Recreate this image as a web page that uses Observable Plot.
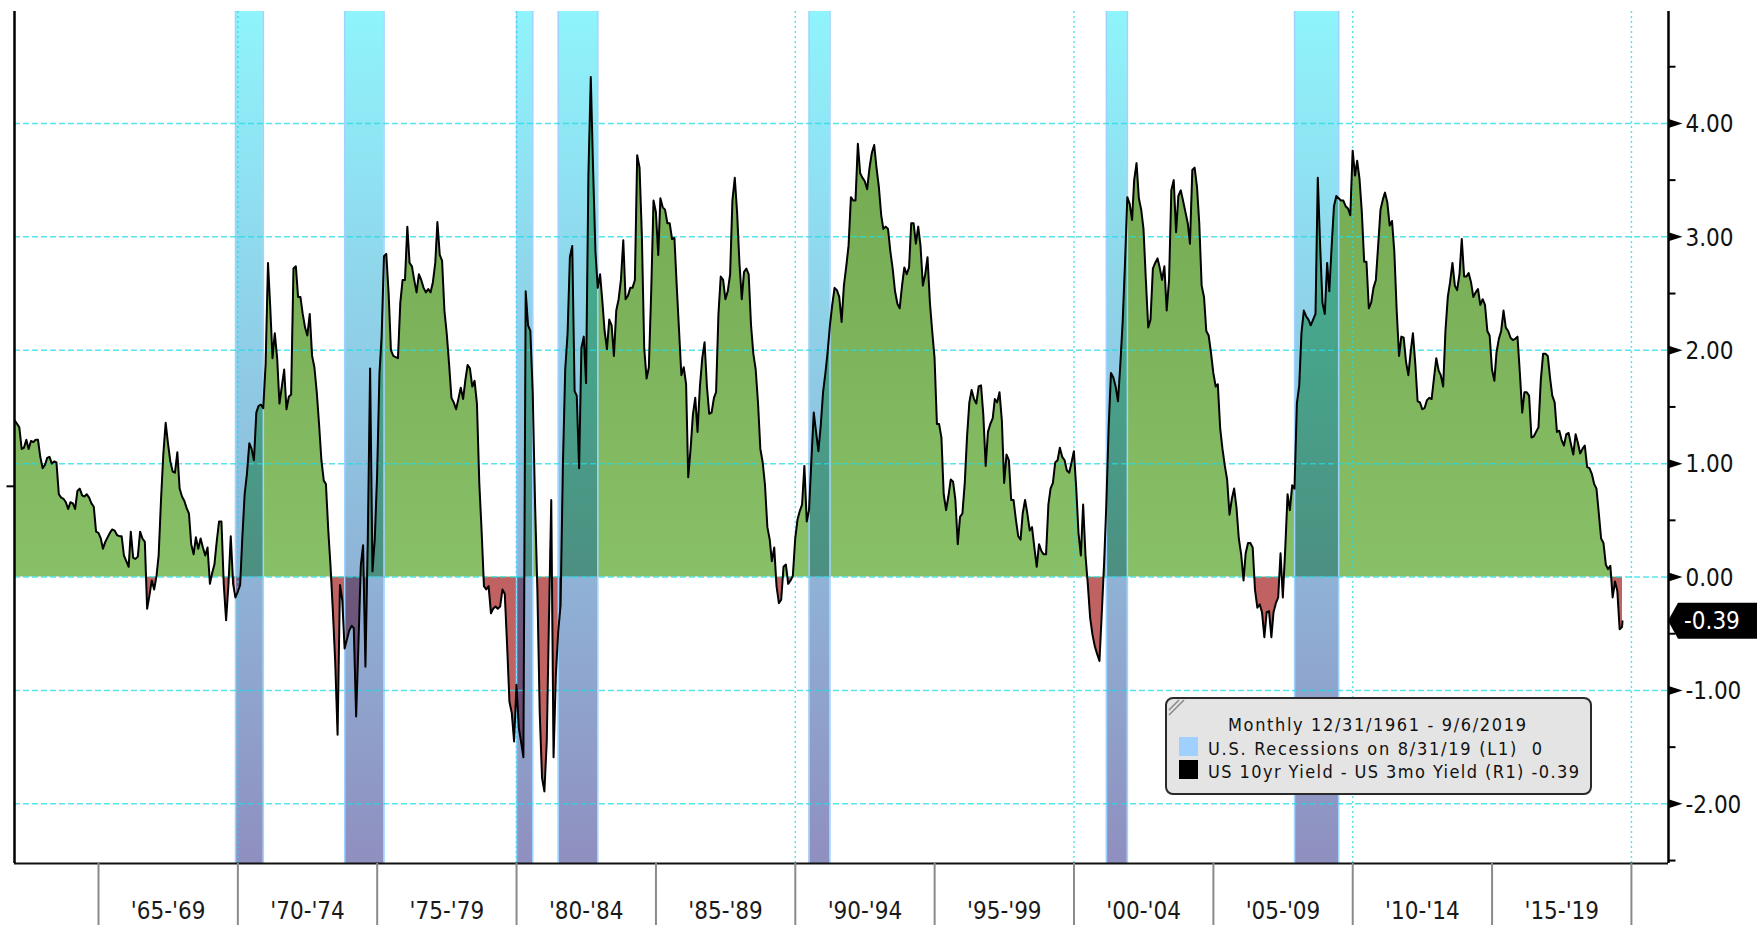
<!DOCTYPE html>
<html><head><meta charset="utf-8">
<script src="https://cdn.jsdelivr.net/npm/d3@7"></script>
<script src="https://cdn.jsdelivr.net/npm/@observablehq/plot@0.6"></script>
<style>
html,body{margin:0;padding:0;background:#fff;}
#chart{width:1757px;height:925px;overflow:hidden;}
</style></head><body><div id="chart"></div>
<script>
// ---- DATA: US 10yr Yield - US 3mo Yield, monthly (month-end), first point 12/31/1961 ----
const spread1960s = [1.38,1.35,1.32,1.13,1.14,1.21,1.13,1.20,1.19,1.21,
1.21,1.06,0.96,0.99,1.05,1.06,1.00,1.02,1.01,0.73,
0.70,0.69,0.66,0.60,0.66,0.65,0.60,0.76,0.78,0.72,
0.71,0.73,0.70,0.65,0.62,0.40,0.39,0.34,0.25,0.31,
0.35,0.39,0.42,0.41,0.37,0.36,0.36,0.19,0.14,0.09,
0.40,0.17,0.16,0.18,0.40,0.34,0.31,-0.28,-0.16,-0.03,
-0.11,0.01,0.19,0.68,1.08,1.36,1.18,1.02,0.93,0.92,
1.10,0.78,0.71,0.67,0.61,0.56,0.29,0.20,0.35,0.25,
0.34,0.26,0.19,0.26,-0.06,0.04,0.11,0.32,0.49,0.49,
-0.06,-0.38,-0.06,0.36,-0.06,-0.18,-0.13];
const spread1970s = [-0.07,0.34,0.73,0.91,1.18,1.13,1.03,1.45,1.51,1.52,
1.49,1.88,2.77,2.40,1.93,2.15,1.93,1.53,1.68,1.83,
1.48,1.59,1.61,2.72,2.74,2.47,2.47,2.32,2.20,2.13,
2.32,1.95,1.85,1.63,1.35,1.03,0.85,0.82,0.41,0.09,
-0.31,-0.75,-1.39,-0.07,-0.20,-0.63,-0.55,-0.47,-0.43,-0.45,
-1.23,-0.60,0.10,0.28,-0.79,0.34,1.84,0.05,0.33,0.90,
1.80,2.12,2.83,2.85,2.50,2.00,1.95,1.94,1.93,2.42,
2.62,2.62,3.09,2.77,2.74,2.62,2.51,2.67,2.62,2.55,
2.51,2.54,2.51,2.60,2.77,3.13,2.84,2.79,2.35,2.15,
1.88,1.58,1.54,1.48,1.57,1.67,1.57,1.73,1.87,1.84,
1.68,1.73,1.53,0.83,0.41,-0.08,-0.11,-0.08,-0.32,-0.28,
-0.26,-0.28,-0.26,-0.11,-0.15,-0.61,-1.10,-1.20,-1.45,-0.95];
const spread1980s = [-1.33,-1.45,-1.59,2.52,2.22,2.17,1.63,0.64,-0.11,-1.20,
-1.77,-1.89,-1.45,-0.40,0.68,-1.59,-0.85,-0.48,-0.25,1.00,
1.83,2.15,2.82,2.92,1.64,1.60,0.96,2.02,2.12,1.71,
3.55,4.41,3.60,2.87,2.55,2.67,2.42,2.17,2.01,2.27,
2.22,1.95,2.35,2.45,2.62,2.97,2.45,2.48,2.55,2.55,
2.62,3.72,3.61,3.02,2.02,1.75,1.85,2.52,3.32,3.22,
2.84,3.34,3.26,3.24,3.12,3.12,2.98,2.99,2.57,2.17,
1.78,1.85,1.70,0.88,1.13,1.43,1.58,1.28,1.68,1.93,
2.07,1.68,1.44,1.45,1.58,1.63,2.32,2.65,2.62,2.45,
2.52,2.67,3.32,3.52,3.22,2.77,2.45,2.69,2.72,2.67,
2.22,1.97,1.83,1.53,1.13,1.01,0.81,0.44,0.33,0.14,
0.26,-0.08,-0.23,-0.20,0.09,0.11,-0.06,-0.03,0.01,0.34];
const spread1990s = [0.51,0.58,0.64,0.98,0.49,0.59,1.03,1.45,1.28,1.11,
1.33,1.63,1.80,1.98,2.22,2.40,2.55,2.53,2.47,2.25,
2.57,2.74,2.92,3.35,3.32,3.32,3.82,3.56,3.52,3.49,
3.42,3.61,3.74,3.81,3.61,3.44,3.19,3.07,3.09,3.07,
2.87,2.72,2.52,2.41,2.37,2.57,2.73,2.67,2.73,3.12,
3.12,2.94,3.09,2.92,2.57,2.67,2.82,2.42,2.17,1.93,
1.35,1.35,1.23,0.73,0.59,0.71,0.86,0.84,0.68,0.29,
0.53,0.56,0.83,1.23,1.54,1.65,1.57,1.53,1.68,1.69,
1.43,0.98,1.28,1.35,1.40,1.57,1.54,1.63,1.38,0.83,
1.08,1.03,0.68,0.68,0.51,0.36,0.33,0.56,0.68,0.56,
0.41,0.44,0.26,0.09,0.29,0.23,0.20,0.20,0.64,0.78,
0.83,1.01,1.03,1.14,1.06,1.03,0.94,0.92,1.01,1.11];
const spread2000s = [0.78,0.39,0.19,0.64,0.19,-0.06,-0.36,-0.51,-0.61,-0.68,
-0.74,-0.31,0.14,0.64,1.33,1.80,1.76,1.68,1.55,1.88,
2.25,2.77,3.35,3.29,3.15,3.50,3.65,3.34,3.24,3.07,
2.62,2.20,2.27,2.72,2.77,2.81,2.72,2.62,2.74,2.35,
2.62,3.41,3.50,3.04,3.36,3.41,3.32,3.22,3.12,2.94,
3.59,3.61,3.44,3.12,2.57,2.47,2.17,2.13,1.98,1.80,
1.68,1.70,1.31,1.13,0.98,0.86,0.55,0.69,0.78,0.61,
0.34,0.20,-0.03,0.21,0.30,0.30,0.26,-0.11,-0.27,-0.24,
-0.31,-0.53,-0.31,-0.30,-0.53,-0.31,-0.23,-0.18,0.21,-0.18,
0.24,0.73,0.59,0.81,0.78,1.53,1.69,2.15,2.35,2.30,
2.27,2.22,2.27,2.32,3.52,2.92,2.42,2.32,2.77,2.52,
2.92,3.27,3.36,3.34,3.32,3.32,3.27,3.25,3.19,3.76];
const spread2010s = [3.54,3.67,3.51,3.22,2.78,2.78,2.37,2.42,2.55,2.62,
2.92,3.24,3.33,3.39,3.30,3.10,3.14,2.87,2.35,1.95,
2.12,2.11,1.90,1.78,1.99,2.15,1.88,1.55,1.54,1.48,
1.49,1.56,1.58,1.57,1.75,1.93,1.82,1.78,1.68,2.17,
2.47,2.60,2.77,2.57,2.53,2.67,2.98,2.65,2.65,2.68,
2.60,2.47,2.51,2.54,2.40,2.45,2.40,2.17,2.13,1.83,
1.73,1.98,2.10,2.17,2.35,2.20,2.17,2.11,2.09,2.10,
2.12,1.80,1.45,1.63,1.63,1.60,1.23,1.24,1.28,1.32,
1.73,1.97,1.97,1.95,1.75,1.60,1.54,1.28,1.29,1.21,
1.16,1.26,1.27,1.17,1.08,1.26,1.18,1.09,1.13,1.16,
0.97,0.96,0.91,0.82,0.78,0.56,0.34,0.30,0.11,0.07,
0.10,-0.18,-0.04,-0.12,-0.46,-0.44];
const lastDate = "2019-09-06";
const lastValue = -0.39;

// U.S. recessions (L1)
const recessionStarts = ["1969-12-01","1973-11-01","1980-01-01","1981-07-01","1990-07-01","2001-03-01","2007-12-01"];
const recessionEnds   = ["1970-11-30","1975-03-31","1980-07-31","1982-11-30","1991-03-31","2001-11-30","2009-06-30"];

// axes
const yTickValues = [4, 3, 2, 1, 0, -1, -2];
const yTickLabels = ["4.00", "3.00", "2.00", "1.00", "0.00", "-1.00", "-2.00"];
const yMinorTicks = [4.5, 3.5, 2.5, 1.5, 0.5, -0.5, -1.5, -2.5];
const leftTicks = [0.8];
const periodStartYears = [1965, 1970, 1975, 1980, 1985, 1990, 1995, 2000, 2005, 2010, 2015, 2020];
const periodLabels = ["'65-'69", "'70-'74", "'75-'79", "'80-'84", "'85-'89", "'90-'94", "'95-'99", "'00-'04", "'05-'09", "'10-'14", "'15-'19"];
const gridYears = [1970, 1980, 1990, 2000, 2010, 2020];

// legend
const legendTitle = "Monthly 12/31/1961 - 9/6/2019";
const legendLabels = ["U.S. Recessions on 8/31/19 (L1)  0", "US 10yr Yield - US 3mo Yield (R1) -0.39"];
const legendColors = ["#9fd0ff", "#000000"];
const lastLabel = "-0.39";

// ---- build ----
const monthly = [].concat(spread1960s, spread1970s, spread1980s, spread1990s, spread2000s, spread2010s);
const data = monthly.map((v, k) => ({date: new Date(Date.UTC(1961, 12 + k, 0)), v}));
data.push({date: new Date(lastDate + "T00:00:00Z"), v: lastValue});

const recessions = recessionStarts.map((s, i) => ({start: new Date(s + "T00:00:00Z"), end: new Date(recessionEnds[i] + "T23:59:59Z")}));
const periods = periodLabels.map((label, i) => ({label, mid: new Date(Date.UTC(periodStartYears[i] + 2, 6, 2))}));
const periodTicks = periodStartYears.map(y => new Date(Date.UTC(y, 0, 1)));
const gridDates = gridYears.map(y => new Date(Date.UTC(y, 0, 1)));
const yTicks = yTickValues.map((v, i) => ({v, label: yTickLabels[i]}));

const W = 1757, H = 925;
const M = {left: 14, right: 89, top: 11, bottom: 62};
const xDomain = [new Date(Date.UTC(1961, 11, 27)), new Date(Date.UTC(2021, 4, 1))];
const yDomain = [-2.526, 4.987];
const yBelow = yDomain[0] - (M.bottom) / ((H - M.top - M.bottom) / (yDomain[1] - yDomain[0]));

const axisFont = "'DejaVu Sans Condensed', 'DejaVu Sans', sans-serif";
const triSymbol = {draw(ctx) { ctx.moveTo(0, -4.5); ctx.lineTo(14, 0); ctx.lineTo(0, 4.5); ctx.closePath(); }};
const minorSymbol = {draw(ctx) { ctx.moveTo(0, 0); ctx.lineTo(7, 0); }};
const leftSymbol = {draw(ctx) { ctx.moveTo(-8, 0); ctx.lineTo(0, 0); }};
const gridColor = "#22dbe6";

const plot = Plot.plot({
  width: W, height: H,
  marginLeft: M.left, marginRight: M.right, marginTop: M.top, marginBottom: M.bottom,
  x: {type: "utc", domain: xDomain, axis: null},
  y: {domain: yDomain, axis: null},
  style: {background: "white"},
  marks: [
    Plot.areaY(data, {x: "date", y1: 0, y2: "v", fill: "url(#spreadFill)"}),
    Plot.rect(recessions, {x1: "start", x2: "end", y1: yDomain[0], y2: yDomain[1], fill: "url(#bandFill)", fillOpacity: 0.44}),
    Plot.ruleX(recessions, {x: "start", stroke: "#9fd3ff", strokeWidth: 1.5}),
    Plot.ruleX(recessions, {x: "end", stroke: "#9fd3ff", strokeWidth: 1.5}),
    Plot.ruleY(yTickValues, {stroke: gridColor, strokeOpacity: 0.75, strokeWidth: 1.5, strokeDasharray: "6,3"}),
    Plot.ruleX(gridDates, {stroke: gridColor, strokeOpacity: 0.75, strokeWidth: 1.5, strokeDasharray: "2,3"}),
    Plot.lineY(data, {x: "date", y: "v", stroke: "black", strokeWidth: 2, strokeLinejoin: "round"}),
    // frame lines
    Plot.ruleY([yDomain[0]], {stroke: "#111", strokeWidth: 2}),
    Plot.ruleX([xDomain[0]], {stroke: "black", strokeWidth: 2.5}),
    Plot.ruleX([xDomain[1]], {stroke: "black", strokeWidth: 2.5}),
    // bottom period ticks and labels
    Plot.ruleX(periodTicks, {y1: yBelow, y2: yDomain[0], stroke: "#8a8a8a", strokeWidth: 2}),
    Plot.text(periods, {x: "mid", text: "label", frameAnchor: "bottom", lineAnchor: "middle", dy: 48, fontSize: 24, fontFamily: axisFont, fill: "#1a1a1a"}),
    // right axis
    Plot.dot(yTickValues, {y: d => d, frameAnchor: "right", symbol: triSymbol, fill: "black", stroke: "none"}),
    Plot.dot(yMinorTicks, {y: d => d, frameAnchor: "right", symbol: minorSymbol, fill: "none", stroke: "black", strokeWidth: 2}),
    Plot.text(yTicks, {y: "v", text: "label", frameAnchor: "right", lineAnchor: "middle", dx: 17, dy: 1, textAnchor: "start", fontSize: 24, fontFamily: axisFont, fill: "#111"}),
    // left axis tick
    Plot.dot(leftTicks, {y: d => d, frameAnchor: "left", symbol: leftSymbol, fill: "none", stroke: "black", strokeWidth: 2})
  ]
});

const svg = d3.select(plot);
const ys = plot.scale("y");
const yZeroPx = ys.apply(0);
const frameTop = M.top, frameBot = H - M.bottom;
const off0 = (yZeroPx - frameTop) / (frameBot - frameTop);
svg.insert("defs", ":first-child").html(`
  <linearGradient id="spreadFill" gradientUnits="userSpaceOnUse" x1="0" y1="${frameTop}" x2="0" y2="${frameBot}">
    <stop offset="0" stop-color="#6ea349"/>
    <stop offset="${off0}" stop-color="#88c068"/>
    <stop offset="${off0}" stop-color="#c06262"/>
    <stop offset="1" stop-color="#c06262"/>
  </linearGradient>
  <linearGradient id="bandFill" gradientUnits="userSpaceOnUse" x1="0" y1="${frameTop}" x2="0" y2="${frameBot}">
    <stop offset="0" stop-color="rgb(0,230,248)"/>
    <stop offset="0.5" stop-color="rgb(0,120,185)"/>
    <stop offset="1" stop-color="rgb(0,0,111)"/>
  </linearGradient>`);

// last value flag
const xRightPx = W - M.right;
const yLastPx = ys.apply(lastValue);
svg.append("path")
  .attr("d", `M${xRightPx},${yLastPx} L${xRightPx + 10},${yLastPx - 18} L${W},${yLastPx - 18} L${W},${yLastPx + 18} L${xRightPx + 10},${yLastPx + 18} Z`)
  .attr("fill", "black");
svg.append("text").attr("x", xRightPx + 16).attr("y", yLastPx).attr("dy", "0.36em").attr("text-anchor", "start")
  .attr("fill", "white").attr("font-size", 24).attr("font-family", axisFont).text(lastLabel);

// legend
const legendFont = "'DejaVu Sans Condensed', 'DejaVu Sans', sans-serif";
const lg = svg.append("g").attr("font-family", legendFont).attr("font-size", 18).attr("fill", "#111");
lg.append("rect").attr("x", 1166).attr("y", 698).attr("width", 425).attr("height", 96).attr("rx", 7)
  .attr("fill", "#e4e4e4").attr("stroke", "#2a2a2a").attr("stroke-width", 2);
lg.append("path").attr("d", "M1169,710 L1179,700 M1169,715 L1184,700").attr("stroke", "#888").attr("stroke-width", 1.5).attr("fill", "none");
lg.append("text").attr("x", 1377).attr("y", 731).attr("text-anchor", "middle")
  .attr("textLength", 298).attr("lengthAdjust", "spacing").text(legendTitle);
const legendWidths = [334, 371];
legendLabels.forEach((lab, i) => {
  lg.append("rect").attr("x", 1179).attr("y", 737 + i * 23).attr("width", 19).attr("height", 19).attr("fill", legendColors[i]);
  lg.append("text").attr("x", 1208).attr("y", 755 + i * 23).attr("text-anchor", "start")
    .attr("textLength", legendWidths[i]).attr("lengthAdjust", "spacing")
    .style("white-space", "pre").text(lab);
});

document.getElementById("chart").appendChild(plot);
</script>
</body></html>
